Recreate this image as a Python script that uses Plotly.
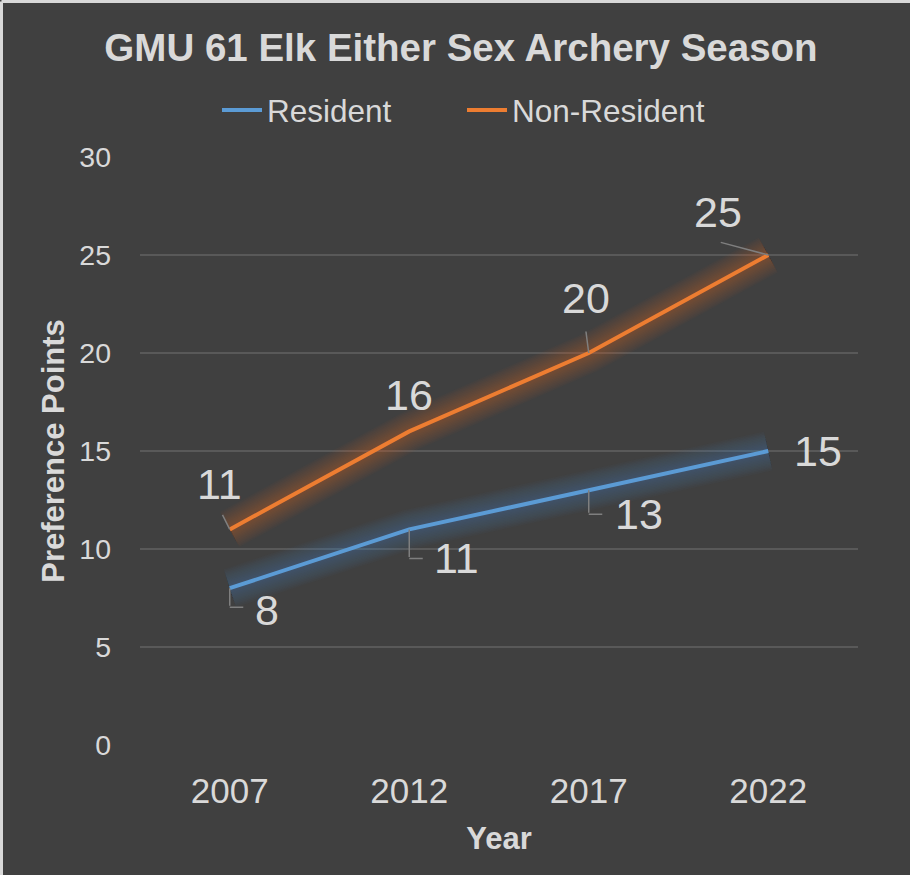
"""GMU 61 Elk Either Sex Archery Season - puntos de preferencia"""

import plotly.graph_objects as go

# Datos
anios = ["2007", "2012", "2017", "2022"]
residente = [8, 11, 13, 15]
no_residente = [11, 16, 20, 25]

# Posicion de etiquetas (px respecto al punto, y hacia abajo)
etq_res = [(37, 22), (47, 29), (50, 24), (50, 0)]
guia_res = [(19, 15), (29, 15), (24, 15), None]  # codo: bajada, tramo horizontal
etq_nores = [(-10, -45), (0, -36), (-3, -55), (-50, -43)]
guia_nores = [(-8, -16), None, (-3, -23), (-49, -13)]

FONDO = "#404040"
TEXTO = "#d9d9d9"
AZUL = "#5b9bd5"
NARANJA = "#ed7d31"
FUENTE = "Liberation Sans, Arial, sans-serif"

fig = go.Figure()

# Resplandor debajo de las lineas (capas finas para suavizar)
for color_rgb, serie in [("91,155,213", residente), ("237,125,49", no_residente)]:
    for ancho in range(40, 6, -3):
        fig.add_trace(go.Scatter(
            x=anios, y=serie,
            mode="lines",
            line=dict(color=f"rgba({color_rgb},0.028)", width=ancho),
            showlegend=False,
            hoverinfo="skip"
        ))

fig.add_trace(go.Scatter(
    x=anios, y=residente,
    mode="lines",
    name="Resident",
    line=dict(color=AZUL, width=4)
))
fig.add_trace(go.Scatter(
    x=anios, y=no_residente,
    mode="lines",
    name="Non-Resident",
    line=dict(color=NARANJA, width=4)
))

# Etiquetas de datos (x por indice de categoria)
for i, (valor, (dx, dy), guia) in enumerate(zip(residente, etq_res, guia_res)):
    fig.add_annotation(
        x=i, y=valor, text=str(valor), showarrow=False,
        xshift=dx, yshift=-dy,
        font=dict(size=43, color=TEXTO, family=FUENTE)
    )
    if guia:
        bajada, horiz = guia
        fig.add_annotation(
            x=i, y=valor, text="", showarrow=True,
            ax=0, ay=bajada, arrowhead=0, arrowwidth=1.5,
            arrowcolor="#7f7f7f", standoff=0, startstandoff=0
        )
        fig.add_annotation(
            x=i, y=valor, text="", showarrow=True,
            yshift=-bajada, ax=horiz, ay=0, arrowhead=0, arrowwidth=1.5,
            arrowcolor="#7f7f7f", standoff=0, startstandoff=0
        )

for i, (valor, (dx, dy), guia) in enumerate(zip(no_residente, etq_nores, guia_nores)):
    fig.add_annotation(
        x=i, y=valor, text=str(valor), showarrow=False,
        xshift=dx, yshift=-dy,
        font=dict(size=43, color=TEXTO, family=FUENTE)
    )
    if guia:
        fig.add_annotation(
            x=i, y=valor, text="", showarrow=True,
            ax=guia[0], ay=guia[1], arrowhead=0, arrowwidth=1.5,
            arrowcolor="#7f7f7f", standoff=0, startstandoff=0
        )

# Borde claro arriba e izquierda
ancho_plot, alto_plot = 718, 588
fig.add_shape(
    type="line", xref="paper", yref="paper",
    x0=(1.5 - 140) / ancho_plot, x1=(910 - 140) / ancho_plot,
    y0=1 + (157 - 1.5) / alto_plot, y1=1 + (157 - 1.5) / alto_plot,
    line=dict(color="#d9d9d9", width=3)
)
fig.add_shape(
    type="line", xref="paper", yref="paper",
    x0=(1.5 - 140) / ancho_plot, x1=(1.5 - 140) / ancho_plot,
    y0=1 + (157 - 1.5) / alto_plot, y1=-(875 - 745) / alto_plot,
    line=dict(color="#d9d9d9", width=3)
)

fig.update_layout(
    title=dict(
        text="<b>GMU 61 Elk Either Sex Archery Season</b>",
        x=461 / 910, xref="container", xanchor="center",
        y=1 - 48 / 875, yref="container", yanchor="middle",
        font=dict(size=38.5, color=TEXTO, family=FUENTE)
    ),
    legend=dict(
        orientation="h",
        x=(462 - 140) / ancho_plot, xanchor="center",
        y=1 + 47 / alto_plot, yanchor="middle",
        font=dict(size=31.5, color=TEXTO, family=FUENTE),
        bgcolor="rgba(0,0,0,0)",
        itemwidth=40,
        entrywidth=190, entrywidthmode="pixels"
    ),
    xaxis=dict(
        type="category",
        range=[-0.5, len(anios) - 0.5], autorange=False,
        title=dict(text="<b>Year</b>", font=dict(size=31, color=TEXTO, family=FUENTE), standoff=18),
        tickfont=dict(size=35, color=TEXTO, family=FUENTE),
        showgrid=False, zeroline=False, showline=False,
        ticks="", ticklabelstandoff=22
    ),
    yaxis=dict(
        title=dict(text="<b>Preference Points</b>", font=dict(size=31, color=TEXTO, family=FUENTE), standoff=5),
        range=[0, 30], autorange=False, dtick=5,
        tickfont=dict(size=28.5, color=TEXTO, family=FUENTE),
        gridcolor="#595959", gridwidth=1.5,
        zeroline=False, showline=False,
        ticks="", ticklabelstandoff=28
    ),
    paper_bgcolor=FONDO,
    plot_bgcolor=FONDO,
    margin=dict(l=140, r=52, t=157, b=130),
    width=910,
    height=875,
    hovermode=False
)

fig.write_html("out.html", config={"displayModeBar": False},
               post_script="document.body.style.margin='0';")
